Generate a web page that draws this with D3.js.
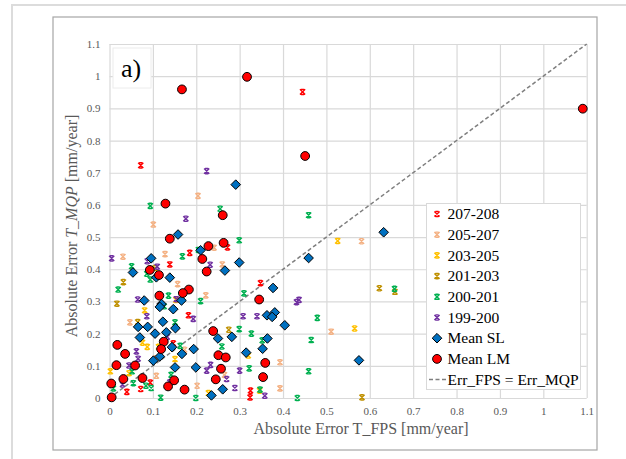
<!DOCTYPE html>
<html>
<head>
<meta charset="utf-8">
<script src="https://cdn.jsdelivr.net/npm/d3@7"></script>
<style>
  body { margin: 0; background: #fff; }
  text { font-family: "Liberation Serif", "Times New Roman", serif; }
</style>
</head>
<body>
<div id="chart"></div>
<script>
// values: [Absolute Error T_FPS, Absolute Error T_MQP]
var s207 = [[0.445,0.951],[0.072,0.723],[0.185,0.451],[0.139,0.415],[0.272,0.468],[0.348,0.357],
  [0.182,0.257],[0.094,0.048],[0.072,0.028],[0.040,0.019],[0.325,0.023],[0.324,0.002],[0.147,0.170]];
var s205 = [[0.204,0.628],[0.101,0.539],[0.128,0.447],[0.031,0.439],[0.241,0.467],[0.260,0.415],
  [0.157,0.354],[0.222,0.319],[0.047,0.235],[0.173,0.150],[0.108,0.069],[0.202,0.038],[0.265,0.072],
  [0.393,0.111],[0.393,0.030],[0.511,0.206],[0.581,0.487],[0.106,0.123]];
var s203 = [[0.526,0.488],[0.565,0.216],[0.151,0.121],[0.076,0.172],[0.087,0.159],[0.081,0.272],
  [0.002,0.083],[0.045,0.077],[0.153,0.305],[0.228,0.015],[0.320,0.132],[0.346,0.023],[0.113,0.159]];
var s201 = [[0.032,0.360],[0.017,0.293],[0.065,0.236],[0.275,0.212],[0.622,0.341],[0.658,0.330],
  [0.582,0.002],[0.105,0.404]];
var s200 = [[0.094,0.597],[0.255,0.588],[0.459,0.568],[0.299,0.490],[0.168,0.440],[0.051,0.409],
  [0.094,0.368],[0.086,0.386],[0.020,0.337],[0.136,0.318],[0.126,0.285],[0.210,0.301],[0.310,0.325],
  [0.151,0.235],[0.299,0.214],[0.327,0.200],[0.479,0.249],[0.465,0.180],[0.352,0.179],[0.259,0.160],
  [0.163,0.162],[0.052,0.083],[0.009,0.030],[0.096,0.031],[0.055,0.046],[0.084,0.038],[0.118,0.001],
  [0.199,0.000],[0.433,0.000],[0.459,0.083],[0.657,0.339],[0.322,0.092],[0.347,0.026],[0.142,0.072],
  [0.205,0.460]];
var s199 = [[0.224,0.705],[0.176,0.557],[0.005,0.434],[0.087,0.425],[0.110,0.408],[0.232,0.414],
  [0.065,0.306],[0.154,0.307],[0.086,0.254],[0.193,0.246],[0.308,0.254],[0.340,0.254],[0.431,0.298],
  [0.437,0.305],[0.062,0.145],[0.066,0.122],[0.045,0.101],[0.030,0.042],[0.139,0.049],[0.233,0.103],
  [0.224,0.085],[0.270,0.059],[0.300,0.085],[0.289,0.031],[0.358,0.007],[0.133,0.190]];
var meanSL = [[0.291,0.663],[0.632,0.515],[0.158,0.508],[0.210,0.459],[0.096,0.434],[0.459,0.435],
  [0.299,0.421],[0.054,0.390],[0.266,0.396],[0.139,0.374],[0.108,0.375],[0.377,0.342],[0.080,0.303],
  [0.166,0.303],[0.120,0.292],[0.116,0.283],[0.147,0.276],[0.381,0.266],[0.363,0.257],[0.375,0.252],
  [0.404,0.226],[0.066,0.221],[0.088,0.221],[0.152,0.217],[0.123,0.237],[0.105,0.200],[0.131,0.204],
  [0.070,0.188],[0.250,0.185],[0.282,0.190],[0.364,0.185],[0.144,0.158],[0.194,0.152],[0.353,0.153],
  [0.315,0.141],[0.116,0.129],[0.101,0.116],[0.575,0.117],[0.151,0.095],[0.199,0.095],[0.261,0.027],
  [0.235,0.008],[0.167,0.137]];
var meanLM = [[0.167,0.959],[0.317,0.998],[1.091,0.899],[0.451,0.752],[0.129,0.604],[0.261,0.568],
  [0.139,0.495],[0.263,0.482],[0.228,0.472],[0.214,0.432],[0.224,0.393],[0.093,0.398],[0.114,0.382],
  [0.183,0.337],[0.169,0.326],[0.115,0.318],[0.345,0.306],[0.239,0.208],[0.125,0.175],[0.018,0.165],
  [0.036,0.137],[0.119,0.152],[0.251,0.133],[0.268,0.126],[0.016,0.102],[0.059,0.101],[0.359,0.109],
  [0.257,0.091],[0.076,0.062],[0.032,0.059],[0.149,0.055],[0.245,0.058],[0.354,0.065],[0.135,0.036],
  [0.173,0.026],[0.004,0.045],[0.005,0.002]];
var ticks = [0,0.1,0.2,0.3,0.4,0.5,0.6,0.7,0.8,0.9,1,1.1];
var seriesNames = ["207-208","205-207","203-205","201-203","200-201","199-200"];
var seriesColors = ["#ff0000","#f4b183","#ffc000","#bf9000","#00b050","#7030a0"];
var seriesData = [s207, s205, s203, s201, s200, s199];

var W = 626, H = 459;
var plotL = 109.5, plotR = 586.7, plotT = 44, plotB = 398;

var svg = d3.select("#chart").append("svg")
  .attr("width", W).attr("height", H);

// page border and chart frame
svg.append("path").attr("d", "M12,459V5H626")
  .attr("fill", "none").attr("stroke", "#dcdcdc").attr("stroke-width", 2);
svg.append("rect").attr("x", 53).attr("y", 17).attr("width", 544).attr("height", 433)
  .attr("fill", "#fff").attr("stroke", "#a6a6a6").attr("stroke-width", 1.2);

var x = d3.scaleLinear().domain([0, 1.1]).range([plotL, plotR]);
var y = d3.scaleLinear().domain([0, 1.1]).range([plotB, plotT]);
var fmt = function(d) { return String(+d.toFixed(1)); };

// axes + grid
svg.append("g")
  .attr("transform", "translate(0," + plotB + ")")
  .call(d3.axisBottom(x).tickValues(ticks).tickSize(-(plotB - plotT)).tickPadding(9).tickFormat(fmt))
  .call(function(g) { g.select(".domain").remove(); })
  .call(function(g) { g.selectAll("line").attr("stroke", "#d9d9d9").attr("stroke-width", 1.2); })
  .call(function(g) { g.selectAll("text").attr("fill", "#595959").style("font-size", "11px")
      .style("font-family", "Liberation Serif"); });

svg.append("g")
  .attr("transform", "translate(" + plotL + ",0)")
  .call(d3.axisLeft(y).tickValues(ticks).tickSize(-(plotR - plotL)).tickPadding(9).tickFormat(fmt))
  .call(function(g) { g.select(".domain").remove(); })
  .call(function(g) { g.selectAll("line").attr("stroke", "#d9d9d9").attr("stroke-width", 1.2); })
  .call(function(g) { g.selectAll("text").attr("fill", "#595959").style("font-size", "11px")
      .style("font-family", "Liberation Serif"); });

// axis titles
svg.append("text")
  .attr("x", 361).attr("y", 434)
  .attr("text-anchor", "middle").attr("fill", "#595959").style("font-size", "16px")
  .text("Absolute Error T_FPS [mm/year]");

var yt = svg.append("text")
  .attr("transform", "translate(77,226) rotate(-90)")
  .attr("text-anchor", "middle").attr("fill", "#595959").style("font-size", "16px");
yt.append("tspan").text("Absolute Error ");
yt.append("tspan").style("font-style", "italic").text("T_MQP");
yt.append("tspan").text(" [mm/year]");

// panel label
svg.append("rect").attr("x", 113).attr("y", 48).attr("width", 38).attr("height", 40)
  .attr("fill", "#fff").attr("stroke", "#ececec");
svg.append("text").attr("x", 121).attr("y", 77).style("font-size", "26px").attr("fill", "#000").text("a)");

// 1:1 line
svg.append("line")
  .attr("x1", x(0)).attr("y1", y(0)).attr("x2", x(1.1)).attr("y2", y(1.1))
  .attr("stroke", "#7f7f7f").attr("stroke-width", 1.5).attr("stroke-dasharray", "4,2.5");

var xMark = "M-2.6,-2.6L2.6,2.6M2.6,-2.6L-2.6,2.6M-1.6,-2.6H1.6M-1.6,2.6H1.6";
var diamond = "M0,-4.8L4.8,0L0,4.8L-4.8,0Z";

// series markers
seriesData.forEach(function(data, i) {
  svg.append("g").selectAll("path")
    .data(data)
    .enter().append("path")
    .attr("d", xMark)
    .attr("transform", function(d) { return "translate(" + x(d[0]) + "," + y(d[1]) + ")"; })
    .attr("fill", "none")
    .attr("stroke", seriesColors[i])
    .attr("stroke-width", 1.4);
});

svg.append("g").selectAll("path")
  .data(meanSL)
  .enter().append("path")
  .attr("d", diamond)
  .attr("transform", function(d) { return "translate(" + x(d[0]) + "," + y(d[1]) + ")"; })
  .attr("fill", "#0070c0").attr("stroke", "#000").attr("stroke-width", 1);

svg.append("g").selectAll("circle")
  .data(meanLM)
  .enter().append("circle")
  .attr("cx", function(d) { return x(d[0]); })
  .attr("cy", function(d) { return y(d[1]); })
  .attr("r", 4.4)
  .attr("fill", "#ff0000").attr("stroke", "#000").attr("stroke-width", 1);

// legend
var lg = svg.append("g");
lg.append("rect").attr("x", 426.5).attr("y", 203.5).attr("width", 154).attr("height", 186)
  .attr("fill", "#fff").attr("stroke", "#d9d9d9");
var rowY = function(i) { return 214 + i * 20.7; };
seriesNames.forEach(function(name, i) {
  lg.append("path").attr("d", xMark)
    .attr("transform", "translate(437," + rowY(i) + ")")
    .attr("fill", "none").attr("stroke", seriesColors[i]).attr("stroke-width", 1.4);
  lg.append("text").attr("x", 447.5).attr("y", rowY(i)).attr("dy", "0.34em")
    .style("font-size", "15.5px").text(name);
});
lg.append("path").attr("d", diamond).attr("transform", "translate(437," + rowY(6) + ")")
  .attr("fill", "#0070c0").attr("stroke", "#000");
lg.append("text").attr("x", 447.5).attr("y", rowY(6)).attr("dy", "0.34em")
  .style("font-size", "15.5px").text("Mean SL");
lg.append("circle").attr("cx", 437).attr("cy", rowY(7)).attr("r", 4.4)
  .attr("fill", "#ff0000").attr("stroke", "#000");
lg.append("text").attr("x", 447.5).attr("y", rowY(7)).attr("dy", "0.34em")
  .style("font-size", "15.5px").text("Mean LM");
lg.append("line").attr("x1", 429).attr("x2", 446).attr("y1", rowY(8)).attr("y2", rowY(8))
  .attr("stroke", "#7f7f7f").attr("stroke-width", 1.5).attr("stroke-dasharray", "4,2.5");
lg.append("text").attr("x", 447.5).attr("y", rowY(8)).attr("dy", "0.34em")
  .style("font-size", "15.5px").text("Err_FPS = Err_MQP");
</script>
</body>
</html>
